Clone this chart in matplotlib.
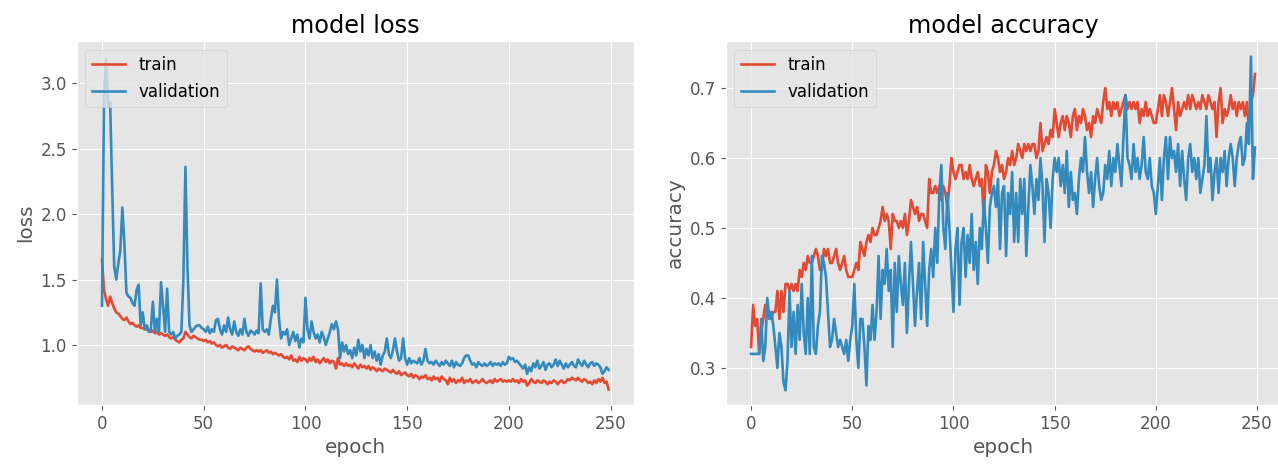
import matplotlib
matplotlib.use("Agg")
import matplotlib.pyplot as plt
import numpy as np

loss_train = [
    1.65, 1.42, 1.35, 1.30, 1.37, 1.32, 1.28, 1.25, 1.24, 1.22,
    1.20, 1.19, 1.21, 1.18, 1.16, 1.17, 1.15, 1.14, 1.15, 1.13,
    1.13, 1.12, 1.12, 1.11, 1.10, 1.11, 1.09, 1.10, 1.08, 1.09,
    1.08, 1.07, 1.08, 1.06, 1.05, 1.06, 1.04, 1.03, 1.02, 1.04,
    1.05, 1.10, 1.08, 1.06, 1.05, 1.07, 1.06, 1.05, 1.04, 1.04,
    1.03, 1.04, 1.02, 1.03, 1.01, 1.02, 1.00, 0.99, 1.00, 0.98,
    0.99, 1.00, 0.98, 0.97, 0.99, 0.98, 0.97, 0.96, 0.98, 0.97,
    0.96, 0.98, 0.99, 0.97, 0.96, 0.95, 0.96, 0.95, 0.96, 0.94,
    0.95, 0.96, 0.94, 0.95, 0.93, 0.94, 0.93, 0.92, 0.93, 0.91,
    0.90, 0.91, 0.89, 0.92, 0.88, 0.89, 0.87, 0.91, 0.88, 0.90,
    0.89, 0.87, 0.90, 0.88, 0.91, 0.87, 0.89, 0.86, 0.88, 0.90,
    0.87, 0.89, 0.86, 0.88, 0.87, 0.82, 0.90, 0.85, 0.86, 0.84,
    0.86, 0.84, 0.85, 0.83, 0.86, 0.84, 0.82, 0.85, 0.83, 0.84,
    0.82, 0.84, 0.81, 0.83, 0.82, 0.80, 0.82, 0.81, 0.80, 0.82,
    0.81, 0.80, 0.79, 0.81, 0.79, 0.78, 0.80, 0.77, 0.78, 0.79,
    0.77, 0.76, 0.78, 0.75, 0.77, 0.76, 0.74, 0.76, 0.75, 0.77,
    0.74, 0.75, 0.73, 0.76, 0.74, 0.75, 0.72, 0.76, 0.74, 0.73,
    0.70, 0.75, 0.72, 0.74, 0.71, 0.73, 0.72, 0.75, 0.71, 0.73,
    0.72, 0.74, 0.71, 0.72, 0.73, 0.71, 0.72, 0.74, 0.72, 0.71,
    0.72, 0.73, 0.71, 0.74, 0.72, 0.73, 0.74, 0.72, 0.73, 0.72,
    0.73, 0.72, 0.74, 0.72, 0.73, 0.71, 0.74, 0.72, 0.73, 0.69,
    0.71, 0.74, 0.72, 0.71, 0.73, 0.72, 0.71, 0.73, 0.72, 0.70,
    0.72, 0.71, 0.73, 0.72, 0.70, 0.72, 0.73, 0.71, 0.72, 0.74,
    0.73, 0.75, 0.74, 0.73, 0.75, 0.73, 0.72, 0.74, 0.73, 0.71,
    0.72, 0.70, 0.73, 0.71, 0.74, 0.72, 0.75, 0.71, 0.72, 0.66,
]

loss_val = [
    1.30, 2.90, 3.18, 2.82, 2.85, 2.20, 1.60, 1.50, 1.62, 1.72,
    2.05, 1.78, 1.40, 1.37, 1.36, 1.32, 1.30, 1.42, 1.46, 1.15,
    1.25, 1.12, 1.15, 1.10, 1.12, 1.33, 1.10, 1.20, 1.10, 1.48,
    1.30, 1.10, 1.43, 1.10, 1.08, 1.10, 1.05, 1.07, 1.08, 1.10,
    1.50, 2.36, 1.60, 1.15, 1.10, 1.12, 1.14, 1.15, 1.15, 1.13,
    1.12, 1.10, 1.14, 1.09, 1.12, 1.10, 1.19, 1.20, 1.12, 1.08,
    1.15, 1.10, 1.21, 1.12, 1.08, 1.18, 1.10, 1.07, 1.12, 1.08,
    1.20, 1.10, 1.07, 1.11, 1.10, 1.08, 1.11, 1.09, 1.47, 1.12,
    1.10, 1.12, 1.08, 1.20, 1.30, 1.25, 1.50, 1.20, 1.05, 1.10,
    1.08, 1.12, 1.00, 1.05, 1.10, 1.03, 1.08, 0.98, 1.05, 1.02,
    1.36, 1.12, 1.05, 1.18, 1.10, 1.05, 1.08, 1.02, 1.10, 1.06,
    1.00, 1.05, 1.10, 1.16, 1.12, 1.18, 1.12, 0.90, 1.02, 0.95,
    1.00, 0.93, 0.96, 0.90, 0.98, 0.92, 1.04, 0.95, 1.00, 0.90,
    0.97, 0.92, 1.00, 0.90, 0.95, 0.88, 0.93, 0.85, 0.92, 0.95,
    1.05, 0.93, 0.90, 0.96, 1.05, 0.95, 0.88, 0.90, 1.05, 0.90,
    0.85, 0.90, 0.86, 0.88, 0.87, 0.86, 0.90, 0.85, 0.88, 0.97,
    0.88, 0.86, 0.87, 0.85, 0.88, 0.86, 0.84, 0.87, 0.85, 0.88,
    0.86, 0.84, 0.88, 0.83, 0.87, 0.85, 0.84, 0.86, 0.90, 0.92,
    0.92, 0.88, 0.85, 0.86, 0.83, 0.87, 0.85, 0.84, 0.86, 0.84,
    0.85, 0.87, 0.84, 0.86, 0.85, 0.86, 0.84, 0.87, 0.85, 0.86,
    0.91, 0.89, 0.90, 0.87, 0.88, 0.86, 0.84, 0.82, 0.85, 0.78,
    0.83, 0.80, 0.86, 0.83, 0.88, 0.82, 0.84, 0.87, 0.81, 0.85,
    0.86, 0.83, 0.85, 0.89, 0.84, 0.88, 0.85, 0.82, 0.86, 0.83,
    0.85, 0.87, 0.84, 0.83, 0.89, 0.86, 0.84, 0.88, 0.85, 0.83,
    0.86, 0.87, 0.84, 0.86, 0.85, 0.83, 0.78, 0.80, 0.83, 0.81,
]

acc_train = [
    0.33, 0.39, 0.36, 0.37, 0.32, 0.35, 0.37, 0.39, 0.38, 0.38,
    0.37, 0.38, 0.38, 0.41, 0.37, 0.41, 0.38, 0.42, 0.42, 0.41,
    0.42, 0.41, 0.42, 0.41, 0.44, 0.43, 0.45, 0.44, 0.46, 0.45,
    0.45, 0.46, 0.47, 0.46, 0.44, 0.44, 0.47, 0.46, 0.47, 0.45,
    0.45, 0.46, 0.47, 0.45, 0.44, 0.45, 0.46, 0.44, 0.43, 0.43,
    0.43, 0.44, 0.45, 0.44, 0.48, 0.47, 0.46, 0.48, 0.49, 0.48,
    0.50, 0.49, 0.49, 0.50, 0.51, 0.53, 0.51, 0.52, 0.51, 0.47,
    0.52, 0.51, 0.51, 0.50, 0.51, 0.50, 0.52, 0.49, 0.51, 0.54,
    0.53, 0.52, 0.53, 0.51, 0.52, 0.52, 0.51, 0.50, 0.57, 0.55,
    0.55, 0.56, 0.55, 0.56, 0.54, 0.56, 0.55, 0.53, 0.56, 0.60,
    0.58, 0.57, 0.58, 0.59, 0.59, 0.57, 0.58, 0.57, 0.59, 0.57,
    0.56, 0.57, 0.58, 0.56, 0.57, 0.51, 0.59, 0.58, 0.55, 0.58,
    0.59, 0.61, 0.60, 0.58, 0.59, 0.57, 0.58, 0.60, 0.59, 0.61,
    0.59, 0.60, 0.62, 0.61, 0.60, 0.62, 0.61, 0.62, 0.61, 0.62,
    0.62, 0.60, 0.61, 0.65, 0.61, 0.62, 0.63, 0.62, 0.64, 0.63,
    0.67, 0.65, 0.63, 0.65, 0.66, 0.64, 0.66, 0.65, 0.63, 0.66,
    0.67, 0.64, 0.66, 0.65, 0.67, 0.66, 0.64, 0.65, 0.63, 0.66,
    0.65, 0.67, 0.66, 0.65, 0.68, 0.70, 0.67, 0.68, 0.66, 0.68,
    0.67, 0.68, 0.66, 0.67, 0.68, 0.69, 0.67, 0.68, 0.67, 0.68,
    0.67, 0.68, 0.65, 0.67, 0.66, 0.68, 0.66, 0.67, 0.66, 0.65,
    0.65, 0.67, 0.69, 0.66, 0.69, 0.68, 0.66, 0.68, 0.70, 0.67,
    0.64, 0.68, 0.66, 0.67, 0.68, 0.67, 0.69, 0.67, 0.69, 0.68,
    0.67, 0.68, 0.67, 0.69, 0.68, 0.67, 0.69, 0.68, 0.67, 0.68,
    0.63, 0.68, 0.70, 0.65, 0.67, 0.66, 0.67, 0.69, 0.67, 0.68,
    0.66, 0.68, 0.67, 0.68, 0.66, 0.68, 0.64, 0.68, 0.69, 0.72,
]

acc_val = [
    0.32, 0.32, 0.32, 0.32, 0.32, 0.37, 0.31, 0.33, 0.40, 0.37,
    0.38, 0.36, 0.33, 0.30, 0.35, 0.33, 0.28, 0.268, 0.31, 0.41,
    0.33, 0.38, 0.32, 0.39, 0.34, 0.42, 0.35, 0.32, 0.40, 0.32,
    0.46, 0.33, 0.32, 0.36, 0.38, 0.46, 0.45, 0.43, 0.38, 0.33,
    0.34, 0.37, 0.35, 0.33, 0.34, 0.33, 0.32, 0.34, 0.31, 0.34,
    0.36, 0.42, 0.34, 0.30, 0.37, 0.37, 0.33, 0.275, 0.36, 0.34,
    0.39, 0.34, 0.38, 0.46, 0.37, 0.44, 0.42, 0.47, 0.41, 0.44,
    0.33, 0.45, 0.38, 0.46, 0.42, 0.39, 0.45, 0.35, 0.42, 0.48,
    0.42, 0.36, 0.41, 0.45, 0.37, 0.48, 0.42, 0.36, 0.44, 0.47,
    0.43, 0.50, 0.45, 0.55, 0.59, 0.50, 0.47, 0.55, 0.50, 0.44,
    0.38, 0.47, 0.50, 0.39, 0.48, 0.50, 0.43, 0.49, 0.45, 0.52,
    0.44, 0.48, 0.42, 0.50, 0.47, 0.54, 0.50, 0.45, 0.53, 0.55,
    0.56, 0.53, 0.57, 0.47, 0.55, 0.56, 0.46, 0.55, 0.52, 0.58,
    0.48, 0.55, 0.48, 0.57, 0.52, 0.57, 0.46, 0.53, 0.59, 0.56,
    0.52, 0.57, 0.54, 0.60, 0.56, 0.48, 0.57, 0.55, 0.50, 0.57,
    0.60, 0.58, 0.60, 0.56, 0.59, 0.55, 0.61, 0.53, 0.58, 0.54,
    0.55, 0.52, 0.57, 0.60, 0.58, 0.63, 0.58, 0.55, 0.58, 0.53,
    0.57, 0.60, 0.56, 0.54, 0.55, 0.59, 0.57, 0.61, 0.56, 0.60,
    0.58, 0.62, 0.59, 0.56, 0.63, 0.69, 0.60, 0.59, 0.57, 0.62,
    0.58, 0.60, 0.57, 0.59, 0.63, 0.58, 0.57, 0.60, 0.56, 0.55,
    0.52, 0.56, 0.60, 0.54, 0.60, 0.63, 0.57, 0.63, 0.60, 0.61,
    0.58, 0.62, 0.56, 0.61, 0.57, 0.54, 0.60, 0.62, 0.58, 0.60,
    0.57, 0.60, 0.55, 0.57, 0.59, 0.66, 0.58, 0.60, 0.54, 0.58,
    0.60, 0.55, 0.60, 0.58, 0.61, 0.56, 0.60, 0.62, 0.60, 0.56,
    0.60, 0.62, 0.63, 0.59, 0.60, 0.65, 0.62, 0.745, 0.57, 0.615,
]

epochs = np.arange(len(loss_train))
legend_labels = ["train", "validation"]

plt.style.use("ggplot")
plt.rcParams["font.family"] = ["DejaVu Sans"]
plt.rcParams["font.size"] = 12

fig = plt.figure(figsize=(12.78, 4.67), dpi=100)
ax1 = fig.add_axes([0.060, 0.1328, 0.436, 0.779])
ax2 = fig.add_axes([0.568, 0.1328, 0.4337, 0.779])

lw = 1.9
ax1.plot(epochs, loss_train, lw=lw)
ax1.plot(epochs, loss_val, lw=lw)
ax1.set_title("model loss")
ax1.set_ylabel("loss")
ax1.set_xlabel("epoch")
ax1.legend(legend_labels, loc="upper left")
ax1.set_xlim(-12.45, 261.45)
ax1.set_ylim(0.542, 3.32)

ax2.plot(epochs, acc_train, lw=lw)
ax2.plot(epochs, acc_val, lw=lw)
ax2.set_title("model accuracy")
ax2.set_ylabel("accuracy")
ax2.set_xlabel("epoch")
ax2.legend(legend_labels, loc="upper left")
ax2.set_xlim(-12.45, 261.45)
ax2.set_ylim(0.247, 0.767)

fig.savefig("out.png", dpi=100)
